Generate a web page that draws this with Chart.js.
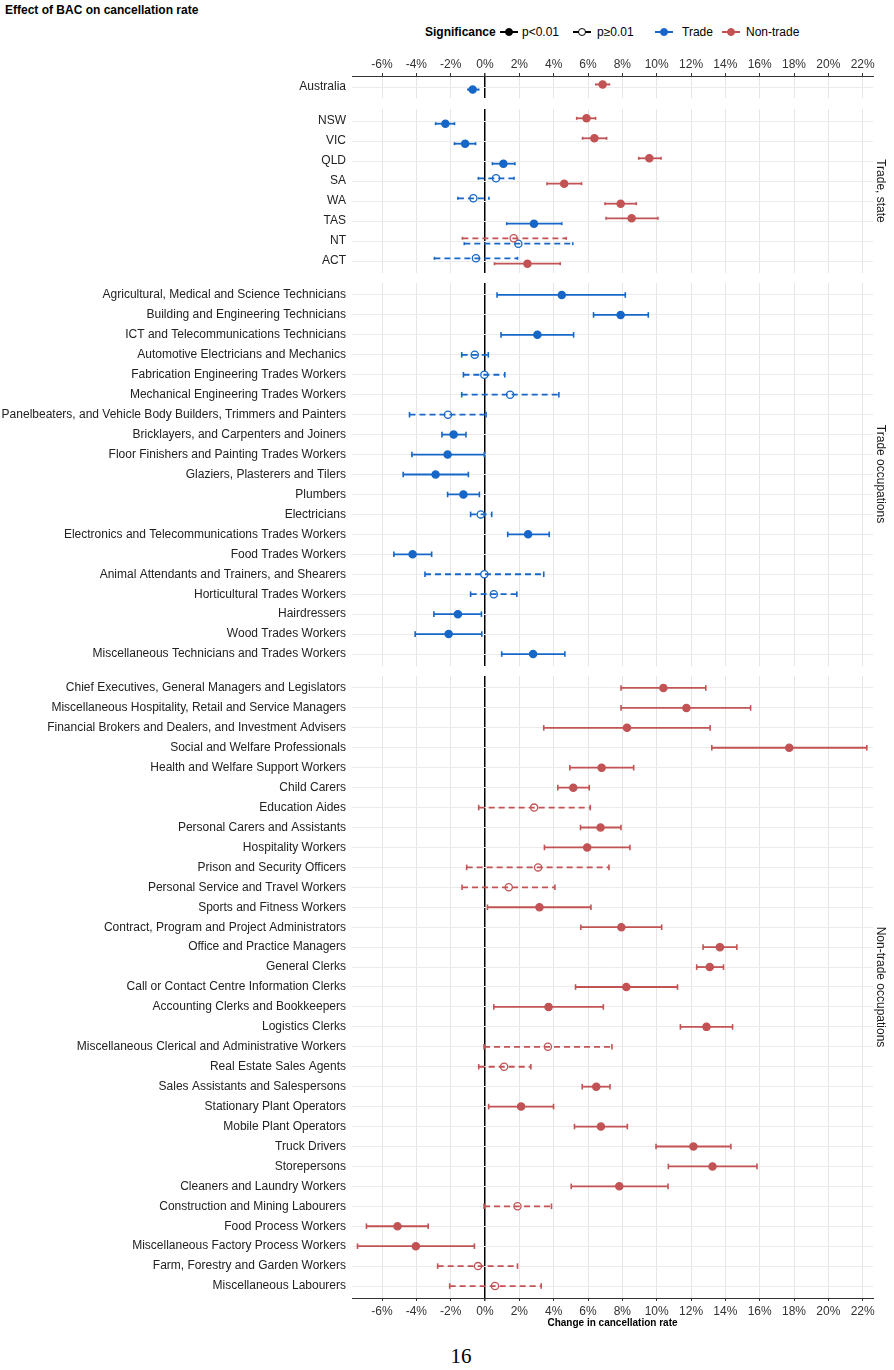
<!DOCTYPE html>
<html>
<head>
<meta charset="utf-8">
<script src="https://cdn.jsdelivr.net/npm/chart.js@4.4.1/dist/chart.umd.min.js"></script>
<style>
  body { margin: 0; width: 894px; height: 1370px; position: relative; background: #fff; overflow: hidden;
         font-family: "Liberation Sans", Arial, sans-serif; }
  canvas { position: absolute; left: 0; }
  #title { position: absolute; left: 5px; top: 3px; font-size: 12px; font-weight: bold; color: #000; }
  .lg { position: absolute; top: 25px; font-size: 12px; line-height: 14px; color: #000; white-space: nowrap; }
  .key { position: absolute; top: 25px; width: 18px; height: 14px; }
  .key .ln { position: absolute; left: 0; top: 6px; width: 18px; height: 2px; }
  .key .dot { position: absolute; left: 5px; top: 3px; width: 6px; height: 6px; border-radius: 50%; border: 1.3px solid; }
  .strip { position: absolute; left: 881px; font-size: 12px; color: #1a1a1a; white-space: nowrap;
           transform: translate(-50%, -50%) rotate(90deg); }
  #page { position: absolute; left: 461px; top: 1356px; transform: translate(-50%, -50%);
          font-family: "Liberation Serif", "DejaVu Serif", serif; font-size: 21px; color: #000; }
</style>
</head>
<body>
<div id="title">Effect of BAC on cancellation rate</div>

<div class="lg" style="left:425px;font-weight:bold">Significance</div>
<div class="key" style="left:500px"><div class="ln" style="background:#000"></div><div class="dot" style="background:#000;border-color:#000"></div></div>
<div class="lg" style="left:522px">p&lt;0.01</div>
<div class="key" style="left:573px"><div class="ln" style="background:#000"></div><div class="dot" style="background:#fff;border-color:#000"></div></div>
<div class="lg" style="left:597px">p≥0.01</div>
<div class="key" style="left:655px"><div class="ln" style="background:#1667c7"></div><div class="dot" style="background:#1667c7;border-color:#1667c7"></div></div>
<div class="lg" style="left:682px">Trade</div>
<div class="key" style="left:722px"><div class="ln" style="background:#c25355"></div><div class="dot" style="background:#c25355;border-color:#c25355"></div></div>
<div class="lg" style="left:746px">Non-trade</div>

<canvas id="aus" width="894" height="48" style="top:50px"></canvas>
<canvas id="state" width="894" height="164" style="top:109px"></canvas>
<canvas id="tocc" width="894" height="383" style="top:283px"></canvas>
<canvas id="nocc" width="894" height="656" style="top:676px"></canvas>

<div class="strip" style="top:191px">Trade, state</div>
<div class="strip" style="top:474px">Trade occupations</div>
<div class="strip" style="top:987px">Non-trade occupations</div>
<div id="page">16</div>

<script>
const tradeColor = '#1667c7'
const nonTradeColor = '#c25355'
const xTicks = [-6, -4, -2, 0, 2, 4, 6, 8, 10, 12, 14, 16, 18, 20, 22]
const xMin = -7.75
const xMax = 22.6

// Australia
const ausLabels = ['Australia']
const ausTradeEst = [-0.72]
const ausTradeLo = [-1.0]
const ausTradeHi = [-0.37]
const ausTradeSig = [1]
const ausNonEst = [6.85]
const ausNonLo = [6.45]
const ausNonHi = [7.25]
const ausNonSig = [1]

// Trade, state
const stateLabels = ['NSW', 'VIC', 'QLD', 'SA', 'WA', 'TAS', 'NT', 'ACT']
const stateTradeEst = [-2.31, -1.16, 1.07, 0.64, -0.68, 2.85, 1.94, -0.53]
const stateTradeLo = [-2.88, -1.78, 0.43, -0.39, -1.58, 1.26, -1.21, -2.95]
const stateTradeHi = [-1.78, -0.55, 1.74, 1.69, 0.23, 4.47, 5.11, 1.89]
const stateTradeSig = [1, 1, 1, 0, 0, 1, 0, 0]
const stateNonEst = [5.91, 6.37, 9.57, 4.61, 7.90, 8.54, 1.67, 2.47]
const stateNonLo = [5.34, 5.68, 8.95, 3.61, 6.99, 7.05, -1.32, 0.55]
const stateNonHi = [6.44, 7.08, 10.25, 5.62, 8.81, 10.07, 4.73, 4.38]
const stateNonSig = [1, 1, 1, 1, 1, 1, 0, 1]

// Trade occupations
const tradeOccLabels = [
    'Agricultural, Medical and Science Technicians',
    'Building and Engineering Technicians',
    'ICT and Telecommunications Technicians',
    'Automotive Electricians and Mechanics',
    'Fabrication Engineering Trades Workers',
    'Mechanical Engineering Trades Workers',
    'Panelbeaters, and Vehicle Body Builders, Trimmers and Painters',
    'Bricklayers, and Carpenters and Joiners',
    'Floor Finishers and Painting Trades Workers',
    'Glaziers, Plasterers and Tilers',
    'Plumbers',
    'Electricians',
    'Electronics and Telecommunications Trades Workers',
    'Food Trades Workers',
    'Animal Attendants and Trainers, and Shearers',
    'Horticultural Trades Workers',
    'Hairdressers',
    'Wood Trades Workers',
    'Miscellaneous Technicians and Trades Workers'
]
const tradeOccEst = [4.47, 7.90, 3.05, -0.60, -0.04, 1.46, -2.16, -1.83, -2.18, -2.88, -1.26, -0.25, 2.51, -4.22, -0.04, 0.51, -1.58, -2.12, 2.80]
const tradeOccLo = [0.70, 6.32, 0.93, -1.36, -1.26, -1.36, -4.40, -2.51, -4.26, -4.77, -2.18, -0.84, 1.32, -5.31, -3.50, -0.84, -2.98, -4.07, 0.97]
const tradeOccHi = [8.17, 9.51, 5.16, 0.19, 1.15, 4.30, 0.06, -1.11, -0.04, -0.97, -0.33, 0.39, 3.74, -3.11, 3.42, 1.85, -0.21, -0.19, 4.65]
const tradeOccSig = [1, 1, 1, 0, 0, 0, 0, 1, 1, 1, 1, 0, 1, 1, 0, 0, 1, 1, 1]

// Non-trade occupations
const nonOccLabels = [
    'Chief Executives, General Managers and Legislators',
    'Miscellaneous Hospitality, Retail and Service Managers',
    'Financial Brokers and Dealers, and Investment Advisers',
    'Social and Welfare Professionals',
    'Health and Welfare Support Workers',
    'Child Carers',
    'Education Aides',
    'Personal Carers and Assistants',
    'Hospitality Workers',
    'Prison and Security Officers',
    'Personal Service and Travel Workers',
    'Sports and Fitness Workers',
    'Contract, Program and Project Administrators',
    'Office and Practice Managers',
    'General Clerks',
    'Call or Contact Centre Information Clerks',
    'Accounting Clerks and Bookkeepers',
    'Logistics Clerks',
    'Miscellaneous Clerical and Administrative Workers',
    'Real Estate Sales Agents',
    'Sales Assistants and Salespersons',
    'Stationary Plant Operators',
    'Mobile Plant Operators',
    'Truck Drivers',
    'Storepersons',
    'Cleaners and Laundry Workers',
    'Construction and Mining Labourers',
    'Food Process Workers',
    'Miscellaneous Factory Process Workers',
    'Farm, Forestry and Garden Workers',
    'Miscellaneous Labourers'
]
const nonOccEst = [10.39, 11.73, 8.27, 17.72, 6.79, 5.14, 2.86, 6.73, 5.95, 3.09, 1.38, 3.17, 7.94, 13.68, 13.09, 8.23, 3.70, 12.90, 3.66, 1.11, 6.48, 2.10, 6.75, 12.14, 13.25, 7.82, 1.89, -5.10, -4.03, -0.41, 0.58]
const nonOccLo = [7.92, 7.92, 3.42, 13.21, 4.94, 4.24, -0.37, 5.56, 3.46, -1.07, -1.34, 0.14, 5.58, 12.70, 12.33, 5.27, 0.51, 11.38, -0.06, -0.37, 5.66, 0.21, 5.21, 9.96, 10.68, 5.02, -0.06, -6.91, -7.43, -2.76, -2.06]
const nonOccHi = [12.86, 15.47, 13.11, 22.24, 8.66, 6.07, 6.13, 7.92, 8.44, 7.22, 4.07, 6.17, 10.29, 14.67, 13.89, 11.21, 6.89, 14.42, 7.39, 2.67, 7.28, 3.99, 8.29, 14.32, 15.84, 10.66, 3.87, -3.31, -0.62, 1.89, 3.27]
const nonOccSig = [1, 1, 1, 1, 1, 1, 0, 1, 1, 0, 0, 1, 1, 1, 1, 1, 1, 1, 0, 0, 1, 1, 1, 1, 1, 1, 0, 1, 1, 0, 0]

Chart.defaults.font.family = '"Liberation Sans", Arial, sans-serif'
Chart.defaults.font.size = 12

// no automatic padding: chart area must sit exactly where the panel is
function noPad(s) {
    s.paddingTop = 0
    s.paddingBottom = 0
    s.paddingLeft = 0
    s.paddingRight = 0
}

// dodge like the original: order within a row is non-trade n.s., trade n.s.,
// non-trade sig, trade sig (top to bottom)
function dodgeOffsets(nonSig, tradeSig, step) {
    const nonOff = [], tradeOff = []
    for (let i = 0; i < nonSig.length; i++) {
        const nonKey = nonSig[i] * 2
        const tradeKey = tradeSig[i] * 2 + 1
        nonOff.push(nonKey < tradeKey ? -step : step)
        tradeOff.push(nonKey < tradeKey ? step : -step)
    }
    return [nonOff, tradeOff]
}

function makePanel(id, labels, groups, cfg) {
    const datasets = []
    const offAt = (g, i) => Array.isArray(g.off) ? g.off[i] : g.off
    // error bars, one little line per row
    for (const g of groups) {
        g.est.forEach((v, i) => {
            const y = i + offAt(g, i)
            datasets.push({
                data: [{ x: g.lo[i], y: y }, { x: g.hi[i], y: y }],
                showLine: true,
                borderColor: g.color,
                borderWidth: 1.8,
                borderDash: g.sig[i] ? [] : [6, 4],
                pointStyle: 'line',
                pointRotation: 90,
                pointRadius: cfg.cap,
                pointBorderColor: g.color,
                pointBorderWidth: 1.6
            })
        })
    }
    // point estimates
    for (const g of groups) {
        datasets.push({
            data: g.est.map((v, i) => ({ x: v, y: i + offAt(g, i) })),
            pointRadius: 3.6,
            pointBorderWidth: 1.3,
            pointBorderColor: g.color,
            pointBackgroundColor: g.est.map((v, i) => g.sig[i] ? g.color : '#fff')
        })
    }

    new Chart(document.getElementById(id), {
        type: 'scatter',
        data: { datasets: datasets },
        options: {
            responsive: false,
            animation: false,
            events: [],
            layout: { autoPadding: false, padding: { left: 0, right: 21, top: 0, bottom: 0 } },
            plugins: { legend: { display: false }, tooltip: { enabled: false } },
            scales: {
                x: {
                    type: 'linear',
                    position: cfg.xPos,
                    min: xMin,
                    max: xMax,
                    afterBuildTicks: s => { s.ticks = xTicks.map(v => ({ value: v })) },
                    afterFit: s => { s.height = cfg.xHeight; noPad(s) },
                    grid: {
                        color: c => (c.tick && c.tick.value === 0) ? '#000' : '#e6e6e6',
                        lineWidth: c => (c.tick && c.tick.value === 0) ? 1.5 : 1,
                        drawTicks: cfg.showAxis,
                        tickLength: 3,
                        tickColor: '#333'
                    },
                    border: { display: cfg.showAxis, color: '#333', width: 1 },
                    ticks: {
                        display: cfg.showAxis,
                        color: '#333',
                        padding: cfg.tickPad || 3,
                        maxRotation: 0,
                        autoSkip: false,
                        callback: v => v + '%'
                    },
                    title: {
                        display: !!cfg.title,
                        text: cfg.title || '',
                        color: '#000',
                        font: { size: 10, weight: 'bold' },
                        padding: { top: 2, bottom: 3 }
                    }
                },
                y: {
                    type: 'linear',
                    reverse: true,
                    min: -0.6,
                    max: labels.length - 0.4,
                    afterBuildTicks: s => { s.ticks = labels.map((l, i) => ({ value: i })) },
                    afterFit: s => { s.width = 352; noPad(s) },
                    grid: { color: '#ebebeb', drawTicks: false },
                    border: { display: false },
                    ticks: {
                        color: '#222',
                        padding: 6,
                        autoSkip: false,
                        callback: v => labels[v]
                    }
                }
            }
        }
    })
}

const ausOff = dodgeOffsets(ausNonSig, ausTradeSig, 0.14)
makePanel('aus', ausLabels, [
    { est: ausNonEst, lo: ausNonLo, hi: ausNonHi, sig: ausNonSig, color: nonTradeColor, off: ausOff[0] },
    { est: ausTradeEst, lo: ausTradeLo, hi: ausTradeHi, sig: ausTradeSig, color: tradeColor, off: ausOff[1] }
], { xPos: 'top', xHeight: 26, showAxis: true, cap: 1, tickPad: 1 })

const stateOff = dodgeOffsets(stateNonSig, stateTradeSig, 0.135)
makePanel('state', stateLabels, [
    { est: stateNonEst, lo: stateNonLo, hi: stateNonHi, sig: stateNonSig, color: nonTradeColor, off: stateOff[0] },
    { est: stateTradeEst, lo: stateTradeLo, hi: stateTradeHi, sig: stateTradeSig, color: tradeColor, off: stateOff[1] }
], { xPos: 'bottom', xHeight: 0, showAxis: false, cap: 1.5 })

makePanel('tocc', tradeOccLabels, [
    { est: tradeOccEst, lo: tradeOccLo, hi: tradeOccHi, sig: tradeOccSig, color: tradeColor, off: 0 }
], { xPos: 'bottom', xHeight: 0, showAxis: false, cap: 2.8 })

makePanel('nocc', nonOccLabels, [
    { est: nonOccEst, lo: nonOccLo, hi: nonOccHi, sig: nonOccSig, color: nonTradeColor, off: 0 }
], { xPos: 'bottom', xHeight: 34, showAxis: true, cap: 2.8, tickPad: 3, title: 'Change in cancellation rate' })
</script>
</body>
</html>
